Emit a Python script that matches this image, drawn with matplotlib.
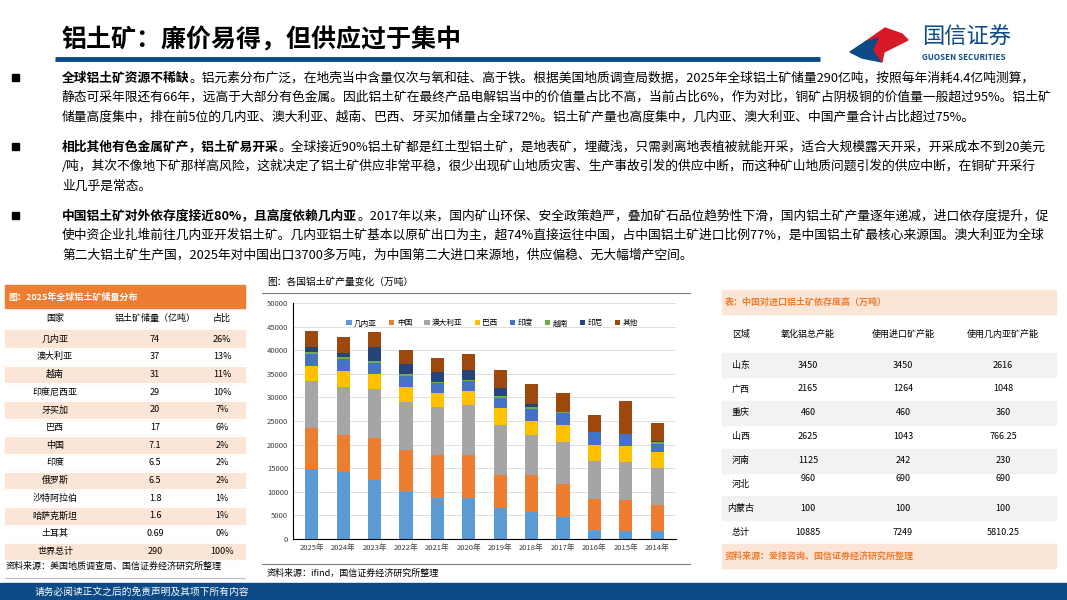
import numpy as np
import matplotlib
matplotlib.use("Agg")
import matplotlib.pyplot as plt
from matplotlib.patches import Rectangle, Polygon

plt.rcParams['font.family'] = ['Noto Sans CJK SC', 'DejaVu Sans']

# 数据：各国铝土矿产量（万吨），每年各分项
years = ["2025年", "2024年", "2023年", "2022年", "2021年", "2020年",
         "2019年", "2018年", "2017年", "2016年", "2015年", "2014年"]
series_names = ["几内亚", "中国", "澳大利亚", "巴西", "印度", "越南", "印尼", "其他"]
guinea    = [14900, 14300, 12400, 10000, 8600, 8600, 6600, 5800, 4700, 2000, 1700, 1700]
china     = [8700, 7800, 8900, 8900, 9100, 9300, 7000, 7800, 7000, 6500, 6600, 5600]
australia = [9800, 10000, 10400, 10200, 10200, 10400, 10600, 8400, 8800, 8100, 8100, 7700]
brazil    = [3200, 3400, 3200, 3000, 3100, 3000, 3500, 3100, 3700, 3400, 3400, 3500]
india     = [2600, 2700, 2400, 2400, 2000, 2100, 2100, 2400, 2400, 2600, 2400, 1700]
vietnam   = [400, 300, 400, 400, 300, 300, 400, 400, 300, 100, 100, 300]
indonesia = [1100, 900, 3000, 2100, 2000, 2100, 1700, 800, 0, 0, 0, 200]
others    = [3400, 3400, 3200, 3100, 3000, 3400, 3900, 4100, 4000, 3500, 7000, 3800]
series_colors = ["#5b9bd5", "#ed7d31", "#a5a5a5", "#ffc000", "#4472c4", "#70ad47", "#264478", "#9e480e"]

# 左表：储量
res_country = ["几内亚", "澳大利亚", "越南", "印度尼西亚", "牙买加", "巴西", "中国", "印度",
               "俄罗斯", "沙特阿拉伯", "哈萨克斯坦", "土耳其", "世界总计"]
res_amount = ["74", "37", "31", "29", "20", "17", "7.1", "6.5", "6.5", "1.8", "1.6", "0.69", "290"]
res_share = ["26%", "13%", "11%", "10%", "7%", "6%", "2%", "2%", "2%", "1%", "1%", "0%", "100%"]

# 右表：进口依存
region = ["山东", "广西", "重庆", "山西", "河南", "河北", "内蒙古", "总计"]
cap_total = ["3450", "2165", "460", "2625", "1125", "960", "100", "10885"]
cap_import = ["3450", "1264", "460", "1043", "242", "690", "100", "7249"]
cap_guinea = ["2616", "1048", "360", "766.25", "230", "690", "100", "5810.25"]

W, H = 1067, 600
fig = plt.figure(figsize=(W / 100, H / 100), dpi=100)
bg = fig.add_axes([0, 0, 1, 1])
bg.set_xlim(0, W)
bg.set_ylim(H, 0)
bg.axis("off")

# 标题
bg.text(62, 40, "铝土矿：廉价易得，但供应过于集中", fontsize=18, fontweight="bold", va="center")
bg.plot([55, 820], [59, 59], color="#0b4a86", lw=3.5, solid_capstyle="butt")
# logo
bg.add_patch(Polygon([[850, 52], [868, 40], [880, 36], [874, 50], [882, 62], [862, 58]], color="#0b4a86"))
bg.add_patch(Polygon([[868, 40], [885, 28], [902, 34], [908, 40], [896, 46], [884, 52], [882, 62], [874, 50], [880, 36]],
                     color="#d7192a"))
bg.text(922, 37, "国信证券", fontsize=16, color="#0b4a86", va="center")
bg.text(922, 58, "GUOSEN SECURITIES", fontsize=5.8, color="#0b4a86", fontweight="bold", va="center")

# 正文
paras = [
    (78, "全球铝土矿资源不稀缺",
     ["。铝元素分布广泛，在地壳当中含量仅次与氧和硅、高于铁。根据美国地质调查局数据，2025年全球铝土矿储量290亿吨，按照每年消耗4.4亿吨测算，",
      "静态可采年限还有66年，远高于大部分有色金属。因此铝土矿在最终产品电解铝当中的价值量占比不高，当前占比6%，作为对比，铜矿占阴极铜的价值量一般超过95%。铝土矿",
      "储量高度集中，排在前5位的几内亚、澳大利亚、越南、巴西、牙买加储量占全球72%。铝土矿产量也高度集中，几内亚、澳大利亚、中国产量合计占比超过75%。"]),
    (147, "相比其他有色金属矿产，铝土矿易开采",
     ["。全球接近90%铝土矿都是红土型铝土矿，是地表矿，埋藏浅，只需剥离地表植被就能开采，适合大规模露天开采，开采成本不到20美元",
      "/吨，其次不像地下矿那样高风险，这就决定了铝土矿供应非常平稳，很少出现矿山地质灾害、生产事故引发的供应中断，而这种矿山地质问题引发的供应中断，在铜矿开采行",
      "业几乎是常态。"]),
    (216, "中国铝土矿对外依存度接近80%，且高度依赖几内亚",
     ["。2017年以来，国内矿山环保、安全政策趋严，叠加矿石品位趋势性下滑，国内铝土矿产量逐年递减，进口依存度提升，促",
      "使中资企业扎堆前往几内亚开发铝土矿。几内亚铝土矿基本以原矿出口为主，超74%直接运往中国，占中国铝土矿进口比例77%，是中国铝土矿最核心来源国。澳大利亚为全球",
      "第二大铝土矿生产国，2025年对中国出口3700多万吨，为中国第二大进口来源地，供应偏稳、无大幅增产空间。"]),
]
fs = 9.2
renderer = fig.canvas.get_renderer()
for y0, lead, lines in paras:
    bg.add_patch(Rectangle((12, y0 - 4), 7, 7, color="black"))
    t = bg.text(62, y0, lead, fontsize=fs, fontweight="bold", va="center")
    bb = t.get_window_extent(renderer)
    bg.text(62 + bb.width, y0, lines[0], fontsize=fs, va="center")
    for i, ln in enumerate(lines[1:]):
        bg.text(62, y0 + 19.5 * (i + 1), ln, fontsize=fs, va="center")

# 左表
bg.add_patch(Rectangle((5, 285), 240, 23, color="#ed7d31"))
bg.text(8, 297, "图：2025年全球铝土矿储量分布", fontsize=6.5, color="white", fontweight="bold", va="center")
cx = [55, 155, 222]
for x, s in zip(cx, ["国家", "铝土矿储量（亿吨）", "占比"]):
    bg.text(x, 318, s, fontsize=6.5, ha="center", va="center")
rh = 17.7
for i in range(len(res_country)):
    yc = 339 + i * rh
    if i % 2 == 0:
        bg.add_patch(Rectangle((5, yc - rh / 2), 240, rh, color="#fbe5d6"))
    bg.plot([5, 245], [yc + rh / 2, yc + rh / 2], color="white", lw=0.8)
    for x, s in zip(cx, [res_country[i], res_amount[i], res_share[i]]):
        bg.text(x, yc, s, fontsize=6.5, ha="center", va="center")
bg.text(6, 566, "资料来源：美国地质调查局、国信证券经济研究所整理", fontsize=6.5, va="center")
bg.plot([5, 245], [578, 578], color="#bfbfbf", lw=0.8)

# 中图标题和来源
bg.text(267, 282, "图：各国铝土矿产量变化（万吨）", fontsize=7, va="center")
bg.plot([262, 690], [293, 293], color="#7f7f7f", lw=0.8)
bg.plot([262, 690], [564, 564], color="#7f7f7f", lw=0.8)
bg.text(267, 573, "资料来源：ifind，国信证券经济研究所整理", fontsize=6.5, va="center")

# 右表
bg.add_patch(Rectangle((722, 290), 334, 24, color="#fbe5d6"))
bg.text(725, 302, "表：中国对进口铝土矿依存度高（万吨）", fontsize=6.5, color="#ed7d31", fontweight="bold", va="center")
rx = [741, 808, 903, 1003]
for x, s in zip(rx, ["区域", "氧化铝总产能", "使用进口矿产能", "使用几内亚矿产能"]):
    bg.text(x, 334, s, fontsize=6.5, ha="center", va="center")
for i in range(len(region)):
    yc = 365 + i * 23.9
    if i % 2 == 0:
        bg.add_patch(Rectangle((722, yc - 12), 334, 24, color="#f2f2f2"))
    dy = -6 if region[i] == "河北" else 0
    bg.text(rx[0], yc, region[i], fontsize=6.5, ha="center", va="center")
    for x, s in zip(rx[1:], [cap_total[i], cap_import[i], cap_guinea[i]]):
        bg.text(x, yc + dy, s, fontsize=6.5, ha="center", va="center")
bg.add_patch(Rectangle((722, 544), 334, 24, color="#fbe5d6"))
bg.text(725, 556, "资料来源：爱择咨询、国信证券经济研究所整理", fontsize=6.5, color="#ed7d31", fontweight="bold", va="center")

# 底部
bg.add_patch(Rectangle((0, 583), W, 17, color="#0b4a86"))
bg.text(35, 591.5, "请务必阅读正文之后的免责声明及其项下所有内容", fontsize=7, color="white", va="center")

# 堆积柱状图
ax = fig.add_axes([293 / W, 1 - 539 / H, (676 - 293) / W, (539 - 303) / H])
data = [guinea, china, australia, brazil, india, vietnam, indonesia, others]
x = np.arange(len(years))
bottom = np.zeros(len(years))
for name, vals, c in zip(series_names, data, series_colors):
    ax.bar(x, vals, 0.42, bottom=bottom, color=c, label=name)
    bottom += np.array(vals)
ax.set_ylim(0, 50000)
ax.set_xlim(-0.6, len(years) - 0.4)
ax.set_yticks(np.arange(0, 50001, 5000))
ax.set_xticks(x)
ax.set_xticklabels(years)
ax.tick_params(labelsize=5.5, length=0, colors="#404040")
ax.grid(axis="y", color="#d9d9d9", lw=0.6)
ax.set_axisbelow(True)
for s in ["top", "right"]:
    ax.spines[s].set_visible(False)
ax.spines["left"].set_color("black")
ax.spines["bottom"].set_color("black")
ax.legend(ncol=8, loc="upper center", bbox_to_anchor=(0.52, 0.96), fontsize=5.5, frameon=False,
          handlelength=0.7, handleheight=0.7, columnspacing=1.6, handletextpad=0.3)

fig.savefig("out.png", dpi=100)
